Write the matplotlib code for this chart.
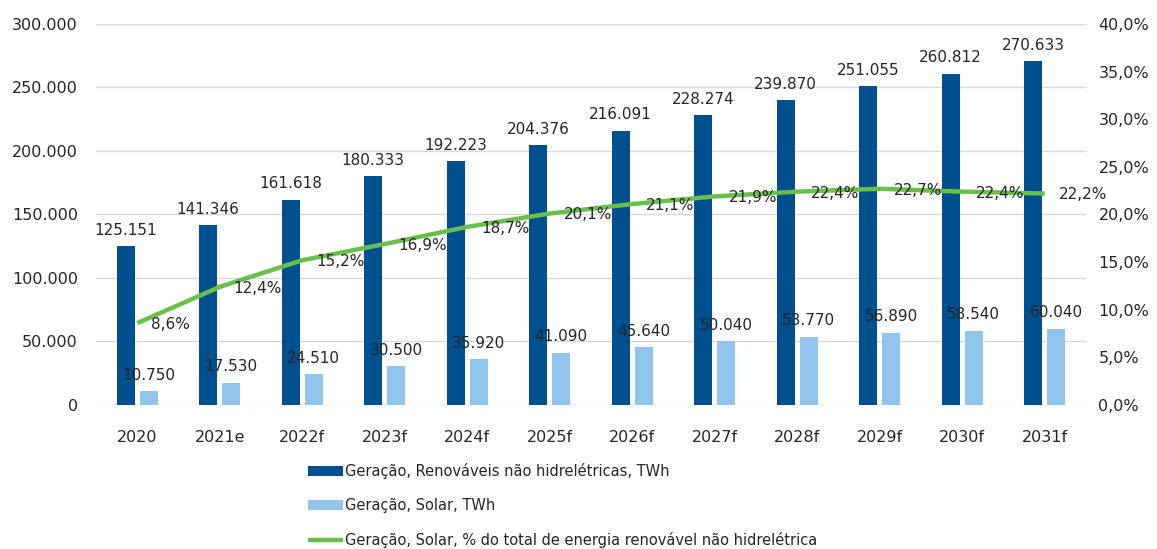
import numpy as np
import matplotlib.pyplot as plt

anos = ['2020', '2021e', '2022f', '2023f', '2024f', '2025f', '2026f',
        '2027f', '2028f', '2029f', '2030f', '2031f']
renovaveis = [125151, 141346, 161618, 180333, 192223, 204376, 216091,
              228274, 239870, 251055, 260812, 270633]
solar = [10750, 17530, 24510, 30500, 35920, 41090, 45640,
         50040, 53770, 56890, 58540, 60040]
pct_solar = [8.6, 12.4, 15.2, 16.9, 18.7, 20.1, 21.1, 21.9, 22.4, 22.7, 22.4, 22.2]

plt.rcParams['font.family'] = 'DejaVu Sans'
fs = 11
txt = '#262626'

fig = plt.figure(figsize=(11.57, 5.49), dpi=100)
ax = fig.add_axes([0.083, 0.2623, 0.8556, 0.694])
ax2 = ax.twinx()

x = np.arange(len(anos))
w = 0.22
b1 = ax.bar(x - 0.14, renovaveis, w, color='#004f8f',
            label='Geração, Renováveis não hidrelétricas, TWh', zorder=2)
b2 = ax.bar(x + 0.14, solar, w, color='#92c5eb',
            label='Geração, Solar, TWh', zorder=2)

def fmt(v):
    return f'{v:,}'.replace(',', '.')

for xi, v in zip(x, renovaveis):
    ax.annotate(fmt(v), (xi - 0.14, v), xytext=(0, 6), textcoords='offset points',
                ha='center', va='bottom', fontsize=fs, color=txt)
for xi, v in zip(x, solar):
    ax.annotate(fmt(v), (xi + 0.14, v), xytext=(0, 6), textcoords='offset points',
                ha='center', va='bottom', fontsize=fs, color=txt)

ln, = ax2.plot(x, pct_solar, color='#6abf4b', lw=3.2, solid_capstyle='butt',
               label='Geração, Solar, % do total de energia renovável não hidrelétrica')
for xi, v in zip(x, pct_solar):
    ax2.annotate(f'{v:.1f}%'.replace('.', ','), (xi, v), xytext=(10, -1),
                 textcoords='offset points', ha='left', va='center',
                 fontsize=fs, color=txt)

ax.set_xlim(-0.5, len(anos) - 0.5)
ax.set_ylim(0, 300000)
ax.set_yticks(np.arange(0, 300001, 50000))
ax.set_yticklabels([fmt(int(v)) for v in np.arange(0, 300001, 50000)])
ax2.set_ylim(0, 40)
ax2.set_yticks(np.arange(0, 41, 5))
ax2.set_yticklabels([f'{v:.1f}%'.replace('.', ',') for v in np.arange(0, 41, 5)])
ax.set_xticks(x)
ax.set_xticklabels(anos)

for a in (ax, ax2):
    for s in a.spines.values():
        s.set_visible(False)
    a.tick_params(length=0, labelsize=11.5, colors=txt)
ax.tick_params(axis='y', pad=13)
ax.tick_params(axis='x', pad=18)
ax2.tick_params(axis='y', pad=9)
ax.grid(axis='y', color='#d9d9d9', lw=1, zorder=0)
ax.set_axisbelow(True)

fig.legend(handles=[b1, b2, ln], loc='upper left', bbox_to_anchor=(0.2615, 0.1676),
           frameon=False, fontsize=10.5, handlelength=2.4, handletextpad=0.1,
           labelspacing=1.3, borderaxespad=0, labelcolor=txt)

fig.savefig('out.png', dpi=100)
